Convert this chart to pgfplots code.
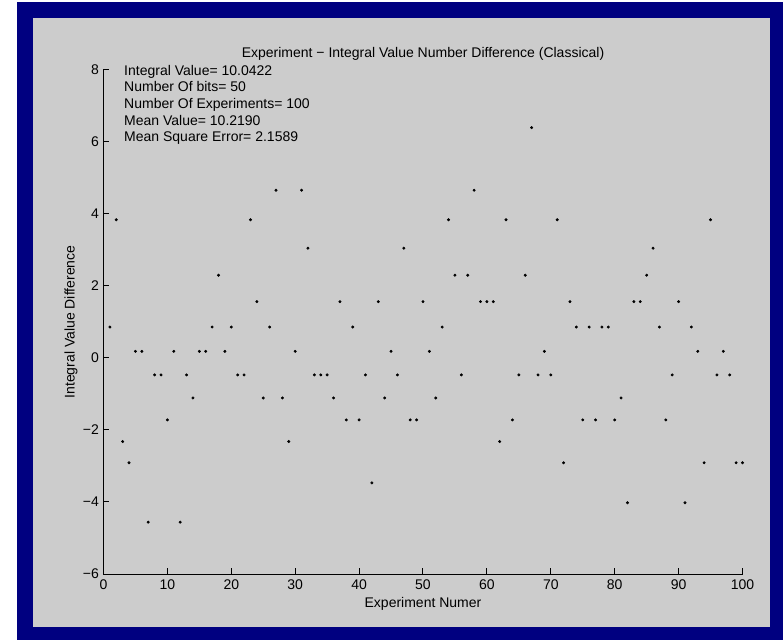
\documentclass[border=0pt]{standalone}
\usepackage{pgfplots}
\usepackage{pgfplotstable}
\pgfplotsset{compat=1.18}
\usepackage{fontspec}
\setmainfont{Liberation Sans}
\definecolor{navyframe}{RGB}{0,0,128}
\definecolor{figgray}{RGB}{204,204,204}

\pgfplotstableread{
x y
1 0.86
2 3.84
3 -2.32
4 -2.91
5 0.185
6 0.185
7 -4.56
8 -0.47
9 -0.47
10 -1.72
11 0.185
12 -4.56
13 -0.47
14 -1.11
15 0.185
16 0.185
17 0.86
18 2.30
19 0.185
20 0.86
21 -0.47
22 -0.47
23 3.84
24 1.565
25 -1.11
26 0.86
27 4.66
28 -1.11
29 -2.32
30 0.185
31 4.66
32 3.05
33 -0.47
34 -0.47
35 -0.47
36 -1.11
37 1.565
38 -1.72
39 0.86
40 -1.72
41 -0.47
42 -3.47
43 1.565
44 -1.11
45 0.185
46 -0.47
47 3.05
48 -1.72
49 -1.72
50 1.565
51 0.185
52 -1.11
53 0.86
54 3.84
55 2.30
56 -0.47
57 2.30
58 4.66
59 1.565
60 1.565
61 1.565
62 -2.32
63 3.84
64 -1.72
65 -0.47
66 2.30
67 6.40
68 -0.47
69 0.185
70 -0.47
71 3.84
72 -2.91
73 1.565
74 0.86
75 -1.72
76 0.86
77 -1.72
78 0.86
79 0.86
80 -1.72
81 -1.11
82 -4.02
83 1.565
84 1.565
85 2.30
86 3.05
87 0.86
88 -1.72
89 -0.47
90 1.565
91 -4.02
92 0.86
93 0.185
94 -2.91
95 3.84
96 -0.47
97 0.185
98 -0.47
99 -2.91
100 -2.91
}\datatable

\begin{document}
\begin{tikzpicture}
\fill[white] (-77.625pt,-49.5pt) rectangle (509.625pt,430.5pt);
\path[use as bounding box] (-77.625pt,-49.5pt) rectangle (509.625pt,430.5pt);
\fill[navyframe] (-64.875pt,-49.5pt) rectangle (509.625pt,429pt);
\fill[figgray] (-52.875pt,-39.75pt) rectangle (499.5pt,417pt);
\begin{axis}[
  at={(0pt,0pt)}, anchor=south west,
  scale only axis, width=479.25pt, height=378pt,
  xmin=0, xmax=100, ymin=-6, ymax=8,
  axis x line*=bottom, axis y line*=left,
  axis line style={-, line width=0.75pt, black},
  tick align=inside,
  major tick length=4.5pt,
  every tick/.style={black, line width=0.75pt},
  xtick={0,10,...,100},
  ytick={-6,-4,-2,0,2,4,6,8},
  yticklabels={−6,−4,−2,0,2,4,6,8},
  /pgf/number format/assume math mode=true,
  tick label style={font=\fontsize{10.5}{12}\selectfont},
  xticklabel style={yshift=-1pt},
  label style={font=\fontsize{10.5}{12}\selectfont},
  title style={font=\fontsize{10.5}{12}\selectfont, at={(0.5,1)}, anchor=base, yshift=3pt},
  title={Experiment − Integral Value Number Difference (Classical)},
  xlabel={Experiment Numer},
  ylabel={Integral Value Difference},
  xlabel style={at={(axis description cs:0.5,-0.0595)}, anchor=center},
  ylabel style={at={(axis description cs:-0.0509,0.5)}, anchor=center},
  clip=false,
]
\addplot[only marks, mark=*, mark size=0.9pt, black] table[x=x,y=y] {\datatable};
\node[anchor=base west, inner sep=0pt, font=\fontsize{10.5}{12}\selectfont] at (axis cs:3.2,7.84) {Integral Value= 10.0422};
\node[anchor=base west, inner sep=0pt, font=\fontsize{10.5}{12}\selectfont] at (axis cs:3.2,7.40) {Number Of bits= 50};
\node[anchor=base west, inner sep=0pt, font=\fontsize{10.5}{12}\selectfont] at (axis cs:3.2,6.94) {Number Of Experiments= 100};
\node[anchor=base west, inner sep=0pt, font=\fontsize{10.5}{12}\selectfont] at (axis cs:3.2,6.47) {Mean Value= 10.2190};
\node[anchor=base west, inner sep=0pt, font=\fontsize{10.5}{12}\selectfont] at (axis cs:3.2,6.01) {Mean Square Error= 2.1589};
\end{axis}
\end{tikzpicture}
\end{document}
